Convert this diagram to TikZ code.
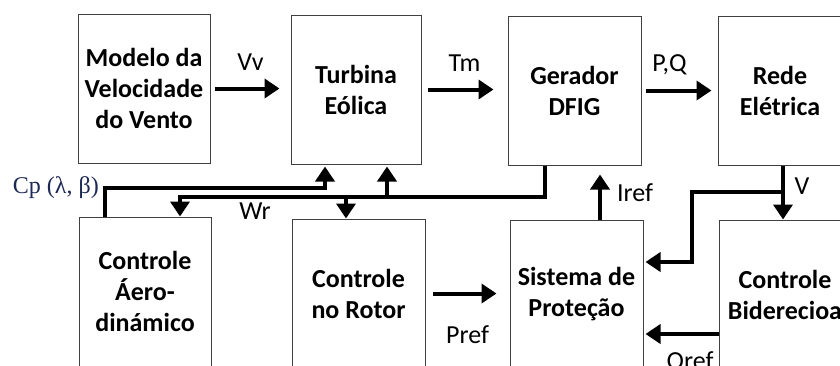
\documentclass[tikz,border=0pt]{standalone}
\usepackage{fontspec}
\setmainfont{Carlito}
\newfontfamily\cpserif{Liberation Serif}
\usetikzlibrary{arrows.meta}
\definecolor{lineGray}{RGB}{64, 64, 64}
\definecolor{cpNavy}{RGB}{28, 40, 85}

\begin{document}
\begin{tikzpicture}[x=1pt, y=-1pt,
    blockBox/.style={draw=lineGray, line width=1pt, minimum width=132pt, minimum height=149pt,
      inner sep=0pt, align=center, font=\fontsize{26}{31}\selectfont\bfseries},
    flowArrow/.style={line width=4pt, -{Triangle[length=15pt, width=19pt]}},
    sigLabel/.style={inner sep=2pt, font=\fontsize{26}{30}\selectfont}]
  \useasboundingbox (0,0) rectangle (840,365);
  \clip (0,0) rectangle (840,365);
  % top row
  \node[blockBox] (vento) at (144,88.5) {Modelo da\\Velocidade\\do Vento};
  \node[blockBox, minimum width=130pt] (turbina) at (356,89.5) {Turbina\\Eólica};
  \node[blockBox, minimum width=133pt] (gerador) at (574.5,90.5) {Gerador\\DFIG};
  \node[blockBox, minimum width=124pt] (rede) at (780,90.5) {Rede\\Elétrica};
  % bottom row
  \node[blockBox] (aero) at (145,291.5) {Controle\\Áero-\\dinámico};
  \node[blockBox, minimum width=133pt] (rotor) at (358.5,293.5) {Controle\\no Rotor};
  \node[blockBox, minimum width=133pt] (protecao) at (576.5,294.5) {Sistema de\\Proteção};
  \node[blockBox] (bidir) at (785,294.5) {Controle\\Biderecioa};

  % forward path
  \draw[flowArrow, shorten <=4pt, shorten >=11pt] (vento.east) -- (turbina.west |- vento.east)
    node[sigLabel, midway, above=14pt] (vvLabel) {Vv};
  \draw[flowArrow, shorten <=6pt, shorten >=14pt] (turbina.east) -- (gerador.west |- turbina.east)
    node[sigLabel, midway, above=14pt] (tmLabel) {Tm};
  \draw[flowArrow, shorten <=4pt, shorten >=6pt] (gerador.east) -- (rede.west |- gerador.east)
    node[sigLabel, midway, above=12pt, xshift=-10pt] (pqLabel) {P,Q};

  % Cp
  \coordinate (cpTurn) at (325,188);
  \draw[flowArrow, shorten >=2pt] ([xshift=-40pt]aero.north) |- (cpTurn) -- (cpTurn |- turbina.south);
  \node[anchor=east, inner sep=0pt, text=cpNavy, font=\cpserif\fontsize{24}{28}\selectfont]
    (cpLabel) at (99,188) {Cp (λ, β)};

  % Wr
  \coordinate (wrBus) at (0,197);
  \coordinate (aeroIn) at ([xshift=35pt]aero.north);
  \coordinate (turbIn) at ([xshift=31pt]turbina.south);
  \coordinate (rotorIn) at ([xshift=-12.5pt]rotor.north);
  \draw[flowArrow] ([xshift=-29.5pt]gerador.south) |- (aeroIn |- wrBus) -- (aeroIn);
  \draw[flowArrow, shorten >=2pt] (turbIn |- wrBus) -- (turbIn);
  \draw[flowArrow] (rotorIn |- wrBus) -- (rotorIn);
  \node[sigLabel] (wrLabel) at (255,211) {Wr};

  % Iref
  \draw[flowArrow, shorten >=9pt] ([xshift=23.5pt]protecao.north) -- ([xshift=23.5pt]protecao.north |- gerador.south)
    node[sigLabel, midway, right=13pt] (irefLabel) {Iref};

  % V
  \coordinate (vTop) at ([xshift=3pt]rede.south);
  \coordinate (vSplit) at (vTop |- 0,192);
  \coordinate (vDrop) at (692,262);
  \draw[flowArrow] (vTop) -- (vTop |- bidir.north);
  \node[sigLabel] (vLabel) at (802,186) {V};
  \draw[flowArrow, shorten >=2pt] (vSplit) -| (vDrop) -- (vDrop -| protecao.east);

  % Pref
  \draw[flowArrow, shorten <=7pt, shorten >=13pt] (rotor.east) -- (protecao.west |- rotor.east)
    node[sigLabel, midway, below=28pt] (prefLabel) {Pref};

  % Qref
  \coordinate (qLevel) at (0,334);
  \draw[flowArrow, shorten >=2pt] (bidir.west |- qLevel) -- (protecao.east |- qLevel);
  \node[sigLabel] (qrefLabel) at (690,362) {Qref};
\end{tikzpicture}
\end{document}
